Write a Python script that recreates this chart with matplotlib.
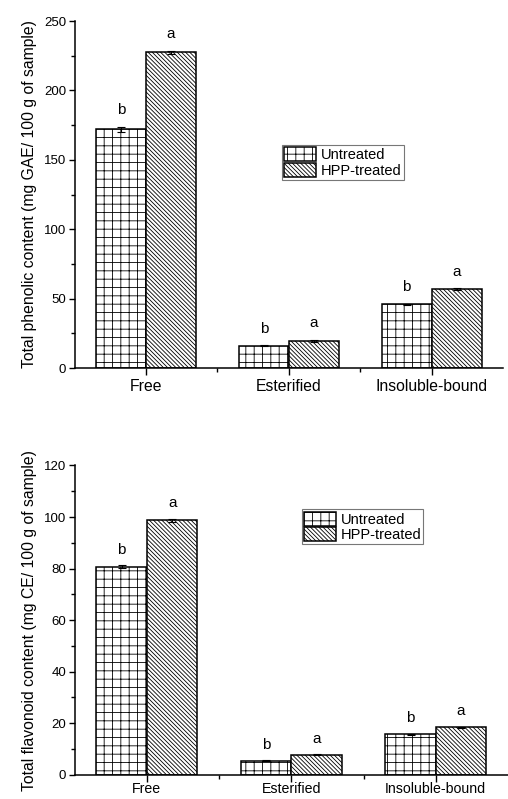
import matplotlib.pyplot as plt
import numpy as np
from matplotlib.ticker import MultipleLocator, FixedLocator

# data
categories = ['Free', 'Esterified', 'Insoluble-bound']
series_names = ['Untreated', 'HPP-treated']

phenolic_untreated = [172.0, 16.1, 45.9]
phenolic_hpp = [227.4, 19.5, 56.7]
phenolic_untreated_err = [2.0, 0.3, 0.4]
phenolic_hpp_err = [1.2, 0.8, 0.6]

flavonoid_untreated = [80.7, 5.4, 15.7]
flavonoid_hpp = [98.8, 7.8, 18.4]
flavonoid_untreated_err = [0.5, 0.1, 0.2]
flavonoid_hpp_err = [0.6, 0.1, 0.2]

letters_untreated = ['b', 'b', 'b']
letters_hpp = ['a', 'a', 'a']

plt.rcParams['font.family'] = ['Liberation Sans', 'DejaVu Sans']
plt.rcParams['hatch.linewidth'] = 0.6

fig = plt.figure(figsize=(5.08, 7.99), dpi=100)
ax1 = fig.add_axes([0.147, 0.5394, 0.843, 0.4343])
ax2 = fig.add_axes([0.147, 0.0305, 0.853, 0.3869])


def draw_panel(ax, unt, hpp, unt_err, hpp_err, ymax, major, minor, ylabel,
               legend_anchor, letter_offset, xfont, xpad):
    x = np.arange(len(categories))
    w = 0.35
    ax.bar(x - w / 2, unt, w, color='white', edgecolor='black', hatch='++',
           linewidth=1.1, label=series_names[0])
    ax.bar(x + w / 2, hpp, w, color='white', edgecolor='black', hatch='\\' * 8,
           linewidth=1.1, label=series_names[1])
    ax.errorbar(x - w / 2, unt, yerr=unt_err, fmt='none', ecolor='black',
                elinewidth=0.8, capsize=3, capthick=0.8)
    ax.errorbar(x + w / 2, hpp, yerr=hpp_err, fmt='none', ecolor='black',
                elinewidth=0.8, capsize=3, capthick=0.8)
    for i in range(len(categories)):
        ax.annotate(letters_untreated[i], (x[i] - w / 2, unt[i] + unt_err[i]),
                    xytext=(0, letter_offset), textcoords='offset points',
                    ha='center', va='bottom', fontsize=11)
        ax.annotate(letters_hpp[i], (x[i] + w / 2, hpp[i] + hpp_err[i]),
                    xytext=(0, letter_offset), textcoords='offset points',
                    ha='center', va='bottom', fontsize=11)

    ax.set_xlim(-0.5, 2.5)
    ax.set_ylim(0, ymax)
    ax.set_xticks(x)
    ax.set_xticklabels(categories, fontsize=xfont)
    ax.xaxis.set_minor_locator(FixedLocator([0.5, 1.5]))
    ax.yaxis.set_major_locator(MultipleLocator(major))
    ax.yaxis.set_minor_locator(MultipleLocator(minor))
    ax.tick_params(axis='y', which='major', direction='out', length=4,
                   width=1, labelsize=9.5, pad=2)
    ax.tick_params(axis='x', which='major', direction='out', length=5,
                   width=1, pad=xpad)
    ax.tick_params(axis='both', which='minor', direction='out', length=3, width=1)
    ax.spines['top'].set_visible(False)
    ax.spines['right'].set_visible(False)
    ax.spines['left'].set_linewidth(1.1)
    ax.spines['bottom'].set_linewidth(1.1)
    ax.set_ylabel(ylabel, fontsize=11.3, labelpad=5)

    leg = ax.legend(loc='upper left', bbox_to_anchor=legend_anchor, fontsize=10.5,
                    handlelength=2.2, handleheight=1.1, labelspacing=0.05,
                    borderpad=0.15, handletextpad=0.3, borderaxespad=0,
                    fancybox=False, framealpha=1)
    leg.get_frame().set_edgecolor('#777777')
    leg.get_frame().set_linewidth(0.8)


draw_panel(ax1, phenolic_untreated, phenolic_hpp, phenolic_untreated_err,
           phenolic_hpp_err, 250, 50, 25,
           'Total phenolic content (mg GAE/ 100 g of sample)', (0.484, 0.643), 7,
           11.3, 3)
draw_panel(ax2, flavonoid_untreated, flavonoid_hpp, flavonoid_untreated_err,
           flavonoid_hpp_err, 120, 20, 10,
           'Total flavonoid content (mg CE/ 100 g of sample)', (0.524, 0.858), 6,
           10.2, 0.5)

fig.savefig('out.png', dpi=100)
